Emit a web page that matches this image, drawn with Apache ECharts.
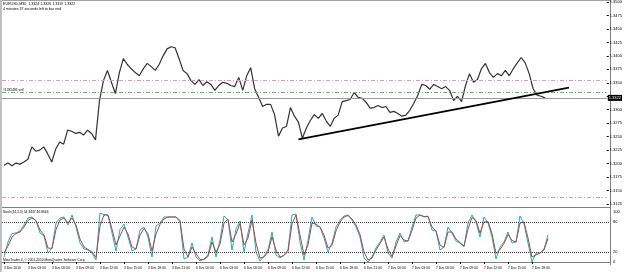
<!DOCTYPE html>
<html>
<head>
<meta charset="utf-8">
<script src="https://cdn.jsdelivr.net/npm/echarts@6/dist/echarts.min.js"></script>
<style>
  html, body { margin: 0; padding: 0; background: #fff; }
  #chart { width: 625px; height: 272px; }
</style>
</head>
<body>
<div id="chart"></div>
<script>
// closing prices, one per bar
const closePrices = [
  1.3197, 1.3201, 1.3196, 1.3201, 1.3199, 1.3203, 1.3208, 1.3231, 1.3223, 1.3225,
  1.3231, 1.3218, 1.3203, 1.3227, 1.3240, 1.3236, 1.3262, 1.3260, 1.3256, 1.3258,
  1.3253, 1.3262, 1.3256, 1.3244, 1.3317, 1.3354, 1.3373, 1.3351, 1.3330, 1.3369,
  1.3395, 1.3384, 1.3376, 1.3369, 1.3363, 1.3376, 1.3386, 1.3380, 1.3373, 1.3384,
  1.3400, 1.3413, 1.3417, 1.3415, 1.3395, 1.3373, 1.3367, 1.3354, 1.3347, 1.3356,
  1.3345, 1.3352, 1.3347, 1.3336, 1.3345, 1.3351, 1.3349, 1.3345, 1.3343, 1.3360,
  1.3336, 1.3363, 1.3378, 1.3339, 1.3323, 1.3306, 1.3310, 1.3310, 1.3291, 1.3251,
  1.3266, 1.3269, 1.3304, 1.3288, 1.3277, 1.3247, 1.3266, 1.3280, 1.3291, 1.3284,
  1.3293, 1.3279, 1.3269, 1.3284, 1.3290, 1.3315, 1.3317, 1.3319, 1.3332, 1.3323,
  1.3321, 1.3314, 1.3303, 1.3304, 1.3308, 1.3304, 1.3306, 1.3295, 1.3297, 1.3293,
  1.3288, 1.3290, 1.3299, 1.3312, 1.3327, 1.3347, 1.3345, 1.3338, 1.3347, 1.3343,
  1.3339, 1.3343, 1.3336, 1.3317, 1.3325, 1.3315, 1.3345, 1.3367, 1.3351, 1.3356,
  1.3376, 1.3386, 1.3369, 1.3360, 1.3367, 1.3363, 1.3373, 1.3363, 1.3376, 1.3387,
  1.3397, 1.3387, 1.3367, 1.3339, 1.3327, 1.3325, 1.3322
];

// Stochastic %K (main) and %D (signal)
const stochMain = [
  10, 40, 57, 58, 62, 74, 88, 90, 82, 58,
  52, 18, 28, 78, 88, 90, 74, 94, 70, 38,
  26, 24, 18, 4, 98, 95, 94, 58, 22, 65,
  76, 50, 22, 26, 64, 70, 50, 10, 72, 78,
  90, 90, 90, 90, 80, 6, 10, 38, 10, 2,
  6, 14, 50, 10, 44, 92, 84, 24, 66, 82,
  20, 58, 94, 20, 2, 12, 24, 60, 14, 8,
  14, 24, 94, 96, 40, 4, 44, 90, 72, 70,
  48, 20, 38, 70, 84, 92, 94, 84, 70, 50,
  8, 0, 10, 28, 40, 54, 18, 8, 40, 58,
  40, 42, 70, 94, 94, 90, 92, 64, 62, 24,
  30, 70, 58, 42, 38, 30, 78, 94, 80, 50,
  90, 78, 50, 6, 30, 40, 60, 38, 40, 92,
  76, 38, 0, 18, 18, 26, 54
];
const stochSignal = [
  18, 32, 50, 57, 60, 70, 83, 88, 83, 64,
  54, 28, 27, 65, 84, 88, 78, 88, 74, 46,
  30, 25, 20, 9, 72, 94, 94, 66, 34, 52,
  70, 56, 30, 26, 54, 67, 56, 22, 56, 75,
  86, 90, 90, 90, 83, 26, 10, 30, 17, 5,
  5, 11, 40, 20, 36, 78, 86, 40, 56, 77,
  34, 48, 84, 38, 8, 10, 20, 50, 24, 10,
  13, 21, 76, 94, 54, 14, 34, 78, 76, 70,
  54, 28, 33, 62, 80, 90, 93, 86, 74, 55,
  20, 4, 8, 24, 37, 50, 26, 11, 32, 53,
  44, 42, 63, 88, 94, 91, 91, 70, 62, 34,
  29, 60, 60, 46, 39, 32, 66, 89, 83, 58,
  80, 81, 57, 17, 25, 37, 55, 43, 40, 78,
  80, 48, 10, 14, 18, 24, 47
];

// time labels, one every 6 bars
const timeLabels = [
  '3 Dec 2010', '3 Dec 03:00', '3 Dec 06:00', '3 Dec 09:00', '3 Dec 12:00', '3 Dec 15:00',
  '3 Dec 18:00', '3 Dec 21:00', '6 Dec 00:00', '6 Dec 03:00', '6 Dec 06:00', '6 Dec 09:00',
  '6 Dec 12:00', '6 Dec 15:00', '6 Dec 18:00', '6 Dec 21:00', '7 Dec 00:00', '7 Dec 03:00',
  '7 Dec 06:00', '7 Dec 09:00', '7 Dec 12:00', '7 Dec 15:00', '7 Dec 18:00'
];
const labelEvery = 6;

// order / price lines
const bidPrice = 1.3322;
const openPrice = 1.3332;
const stopLoss = 1.3354;
const takeProfit = 1.3137;
const orderLabel = '#1335485 sell';
const trendLine = [[74, 1.3245], [142, 1.3341]];
const stochLevels = [80, 20];

const slotCount = 152; // bars + empty shift area on the right
const slots = Array.from({ length: slotCount }, (_, i) => String(i));

const font = 'Liberation Sans';
const showTime = (i) => i % labelEvery === 0 && i / labelEvery < timeLabels.length;
const dashDot = [4, 2, 1, 2];

const chart = echarts.init(document.getElementById('chart'));
chart.setOption({
  animation: false,
  backgroundColor: '#fff',
  title: [
    {
      text: 'EURUSD,M30  1.3324 1.3326 1.3319 1.3322',
      subtext: '4 minutes 37 seconds left to bar end',
      left: 3, top: 2, padding: 0, itemGap: 1,
      textStyle: { fontSize: 3.6, fontWeight: 'normal', color: '#000', fontFamily: font },
      subtextStyle: { fontSize: 3.6, color: '#000', fontFamily: font }
    },
    {
      text: 'Stoch(14,3,3) 54.3437 46.8646',
      left: 3, top: 211, padding: 0,
      textStyle: { fontSize: 3.3, fontWeight: 'normal', color: '#000', fontFamily: font }
    },
    {
      text: 'MetaTrader 4, \u00a9 2001-2010 MetaQuotes Software Corp.',
      left: 3, top: 259, padding: 0,
      textStyle: { fontSize: 3.3, fontWeight: 'normal', color: '#000', fontFamily: font }
    }
  ],
  grid: [
    { left: 2, right: 15, top: 1, height: 203 },
    { left: 2, right: 15, top: 212, height: 50 }
  ],
  xAxis: [
    {
      type: 'category', gridIndex: 0, data: slots, boundaryGap: true,
      axisLine: { show: false }, axisTick: { show: false }, axisLabel: { show: false }
    },
    {
      type: 'category', gridIndex: 1, data: slots, boundaryGap: true, offset: 3,
      axisLine: { show: true, lineStyle: { color: '#808080', width: 1 } },
      axisTick: { show: true, length: 2, interval: showTime, alignWithLabel: true, lineStyle: { color: '#000' } },
      axisLabel: {
        interval: showTime, align: 'left', margin: 2,
        fontSize: 3.3, color: '#000', fontFamily: font,
        formatter: (v, i) => timeLabels[i / labelEvery] || ''
      }
    }
  ],
  yAxis: [
    {
      type: 'value', gridIndex: 0, position: 'right',
      min: 1.3125, max: 1.35, interval: 0.0025,
      axisLine: { show: false },
      axisTick: { show: true, length: 2, lineStyle: { color: '#000' } },
      splitLine: { show: false },
      axisLabel: {
        fontSize: 4, margin: 3, color: '#000', fontFamily: font,
        formatter: (v) => Math.abs(v - 1.3325) < 1e-6 ? '' : v.toFixed(4)
      }
    },
    {
      type: 'value', gridIndex: 1, position: 'right',
      min: 0, max: 100, interval: 20,
      axisLine: { show: false },
      axisTick: { show: false },
      splitLine: { show: false },
      axisLabel: {
        fontSize: 4, margin: 3, color: '#000', fontFamily: font,
        formatter: (v) => [0, 20, 80, 100].includes(v) ? String(v) : ''
      }
    }
  ],
  series: [
    {
      type: 'line', xAxisIndex: 0, yAxisIndex: 0,
      data: closePrices, showSymbol: false, silent: true,
      lineStyle: { color: '#333', width: 1.2 },
      markLine: {
        silent: true, symbol: 'none', precision: 4,
        data: [
          { yAxis: stopLoss, lineStyle: { color: '#e49aa9', type: dashDot, width: 1 }, label: { show: false } },
          {
            yAxis: openPrice, lineStyle: { color: '#63b863', type: dashDot, width: 1 },
            label: {
              show: true, position: 'insideStartTop', distance: 1, formatter: orderLabel,
              fontSize: 3.3, color: '#000', fontFamily: font
            }
          },
          { yAxis: takeProfit, lineStyle: { color: '#e49aa9', type: dashDot, width: 1 }, label: { show: false } },
          {
            yAxis: bidPrice, lineStyle: { color: '#9a9a9a', type: 'solid', width: 1 },
            label: {
              show: true, position: 'end', distance: 1, formatter: bidPrice.toFixed(4),
              backgroundColor: '#000', color: '#fff', fontSize: 4, padding: [1, 1], fontFamily: font
            }
          },
          [
            { coord: trendLine[0], lineStyle: { color: '#000', width: 1.6, type: 'solid' }, label: { show: false } },
            { coord: trendLine[1] }
          ]
        ]
      }
    },
    {
      type: 'line', xAxisIndex: 1, yAxisIndex: 1,
      data: stochMain, showSymbol: false, silent: true,
      lineStyle: { color: '#20b2aa', width: 1 },
      markLine: {
        silent: true, symbol: 'none',
        lineStyle: { color: '#444', type: 'dotted', width: 1 },
        label: { show: false },
        data: stochLevels.map((v) => ({ yAxis: v }))
      }
    },
    {
      type: 'line', xAxisIndex: 1, yAxisIndex: 1,
      data: stochSignal, showSymbol: false, silent: true,
      lineStyle: { color: '#a84848', width: 1 }
    }
  ],
  graphic: [
    { type: 'rect', silent: true, shape: { x: 0, y: 0, width: 2, height: 272 }, style: { fill: '#c0c0c0' } },
    { type: 'line', silent: true, shape: { x1: 2, y1: 0.5, x2: 610, y2: 0.5 }, style: { stroke: '#a0a0a0', lineWidth: 1 } },
    { type: 'line', silent: true, shape: { x1: 610.5, y1: 0, x2: 610.5, y2: 265 }, style: { stroke: '#808080', lineWidth: 1 } },
    { type: 'line', silent: true, shape: { x1: 2, y1: 207.5, x2: 610, y2: 207.5 }, style: { stroke: '#808080', lineWidth: 1 } }
  ]
});
</script>
</body>
</html>
